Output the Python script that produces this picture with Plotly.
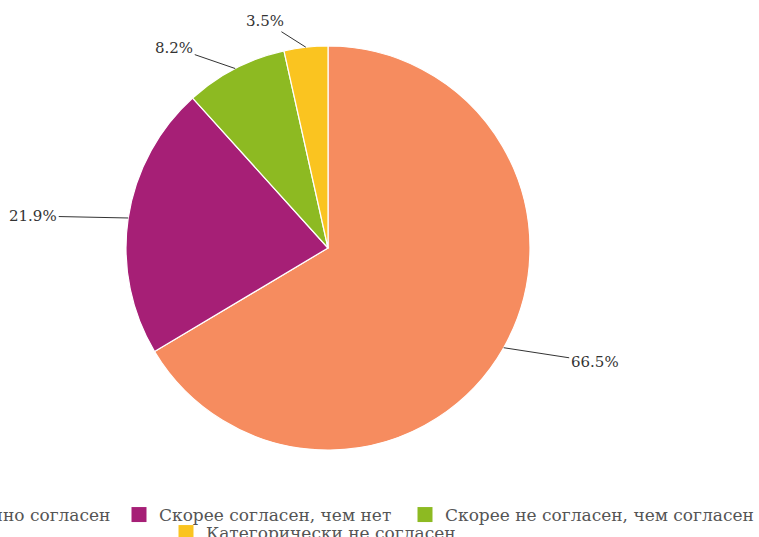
import math
import plotly.graph_objects as go

categories = ["Определенно согласен", "Скорее согласен, чем нет",
              "Скорее не согласен, чем согласен", "Категорически не согласен"]
values = [66.5, 21.9, 8.2, 3.5]
labels = ["66.5%", "21.9%", "8.2%", "3.5%"]

colors = ["#F68C5F", "#A61F76", "#8DBA22", "#FAC420"]
# pixel offsets of each label from its slice rim (style only)
label_dx = [91, -95, -61, -41]
label_dy = [14, -2, -21, -26]
# legend placement (pixels): left edge, row centre
legend_px = [(-136, 515), (119, 515), (405, 515), (166, 533)]

W, H = 759, 537
cx, cy = 328, 248
r = 202

fig = go.Figure()
fig.add_trace(go.Pie(
    labels=categories, values=values, sort=False, direction="clockwise",
    rotation=0, textinfo="none", hoverinfo="label+percent", showlegend=False,
    marker=dict(colors=colors, line=dict(color="white", width=1.2)),
    domain=dict(x=[(cx - r) / W, (cx + r) / W],
                y=[(H - cy - r) / H, (H - cy + r) / H]),
))

legend_font = dict(family="DejaVu Serif", size=17, color="#555")
layout_legends = {}
for i, (name, col) in enumerate(zip(categories, colors)):
    lid = "legend" if i == 0 else f"legend{i + 1}"
    fig.add_trace(go.Scatter(
        x=[None], y=[None], mode="markers", name=name, legend=lid,
        marker=dict(symbol="square", size=15, color=col), showlegend=True,
        hoverinfo="skip"))
    lx, ly = legend_px[i]
    layout_legends[lid] = dict(
        orientation="h", x=lx / W, xanchor="left", y=(H - ly) / H, yanchor="middle",
        font=legend_font, itemwidth=30, bgcolor="rgba(0,0,0,0)")

total = sum(values)
cum = 0.0
annotations = []
for v, t, dx, dy in zip(values, labels, label_dx, label_dy):
    mid = (cum + v / 2) / total * 2 * math.pi
    cum += v
    px = cx + r * math.sin(mid)
    py = cy - r * math.cos(mid)
    annotations.append(dict(
        x=px / W, y=(H - py) / H, xref="paper", yref="paper",
        text=t, showarrow=True, arrowhead=0, arrowwidth=1, arrowcolor="#333",
        ax=dx, ay=dy, standoff=0,
        font=dict(family="DejaVu Serif", size=15, color="#333")))

fig.update_layout(
    width=W, height=H, margin=dict(l=0, r=0, t=0, b=0, autoexpand=False),
    paper_bgcolor="white", plot_bgcolor="white",
    xaxis=dict(visible=False), yaxis=dict(visible=False),
    annotations=annotations,
    **layout_legends,
)
fig.write_html("out.html", config={"displayModeBar": False},
               post_script="document.body.style.margin='0';document.body.style.overflow='hidden';")
